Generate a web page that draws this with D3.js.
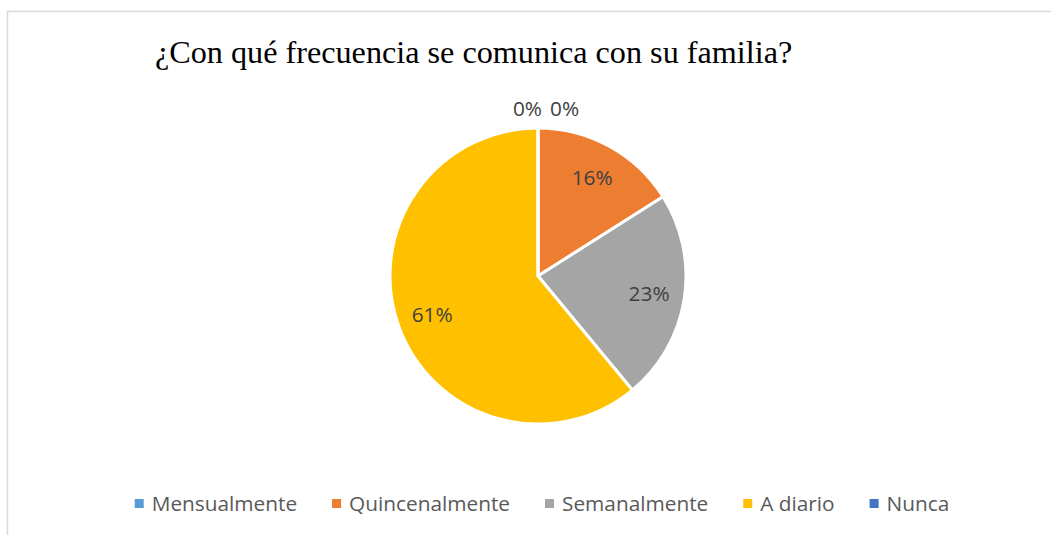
<!DOCTYPE html>
<html lang="es">
<head>
  <meta charset="UTF-8">
  <title>Frecuencia de comunicación</title>
  <style>
    html, body { margin: 0; padding: 0; background: #fff; }
    svg { display: block; }
  </style>
</head>
<body>

<svg id="chart" width="1051" height="535"></svg>

<script src="https://d3js.org/d3.v7.min.js"></script>

<script>

  var categories = ["Mensualmente", "Quincenalmente", "Semanalmente", "A diario", "Nunca"];
  var values = [0, 16, 23, 61, 0];
  var colors = ["#5B9BD5", "#ED7D31", "#A5A5A5", "#FFC000", "#4472C4"];
  var title = "¿Con qué frecuencia se comunica con su familia?";

  var svg = d3.select("#chart"),
      width = +svg.attr("width"),
      height = +svg.attr("height"),
      cx = 538, cy = 276, r = 148;

  var data = categories.map(function (c, i) {
    return { name: c, value: values[i], color: colors[i] };
  });

  // chart border (runs off the right and bottom of the picture)
  svg.append("rect")
    .attr("x", 7.5).attr("y", 11.5)
    .attr("width", width + 50).attr("height", height + 50)
    .attr("fill", "#fff")
    .attr("stroke", "#d9d9d9")
    .attr("stroke-width", 1.5);

  svg.append("text")
    .attr("x", 155).attr("y", 63)
    .attr("font-family", "'Liberation Serif', 'Times New Roman', serif")
    .attr("font-size", 32.2)
    .attr("fill", "#000")
    .text(title);

  var pie = d3.pie().sort(null).value(function (d) { return d.value; });
  var arcs = pie(data);

  var arc = d3.arc().innerRadius(0).outerRadius(r);
  var labelArc = d3.arc().innerRadius(r * 0.76).outerRadius(r * 0.76);
  var outerArc = d3.arc().innerRadius(r + 20).outerRadius(r + 20);

  var g = svg.append("g").attr("transform", "translate(" + cx + "," + cy + ")");

  g.selectAll("path")
    .data(arcs)
    .enter().append("path")
    .attr("d", arc)
    .attr("fill", function (d) { return d.data.color; })
    .attr("stroke", "#fff")
    .attr("stroke-width", 3)
    .attr("stroke-linejoin", "round");

  var labelFont = "'Open Sans', 'Liberation Sans', sans-serif";

  // labels of real slices sit inside, zero slices go outside at the top
  g.selectAll("text.lbl")
    .data(arcs)
    .enter().append("text")
    .attr("class", "lbl")
    .attr("font-family", labelFont)
    .attr("font-size", 20.8)
    .attr("fill", "#404040")
    .each(function (d, i) {
      var t = d3.select(this);
      t.text(d.data.value + "%");
      if (d.data.value > 0) {
        var c = labelArc.centroid(d);
        t.attr("x", c[0]).attr("y", c[1]).attr("dy", "0.36em").attr("text-anchor", "middle");
      } else {
        var o = outerArc.centroid(d);
        var first = d.startAngle < Math.PI;
        t.attr("x", o[0] + (first ? 12 : 4))
          .attr("y", o[1] + 8)
          .attr("text-anchor", first ? "start" : "end");
      }
    });

  // legend
  var legend = svg.append("g");
  var items = legend.selectAll("g")
    .data(data)
    .enter().append("g");

  items.append("rect")
    .attr("width", 9).attr("height", 9)
    .attr("y", -12)
    .attr("fill", function (d) { return d.color; });

  items.append("text")
    .attr("x", 17)
    .attr("font-family", labelFont)
    .attr("font-size", 20.8)
    .attr("fill", "#595959")
    .text(function (d) { return d.name; });

  var xpos = 0;
  items.each(function () {
    var w = d3.select(this).select("text").node().getComputedTextLength();
    d3.select(this).attr("transform", "translate(" + xpos + ",0)");
    xpos += 17 + w + 35;
  });
  var legendWidth = xpos - 35;
  legend.attr("transform", "translate(" + (542 - legendWidth / 2) + ",511)");

</script>

</body>
</html>
